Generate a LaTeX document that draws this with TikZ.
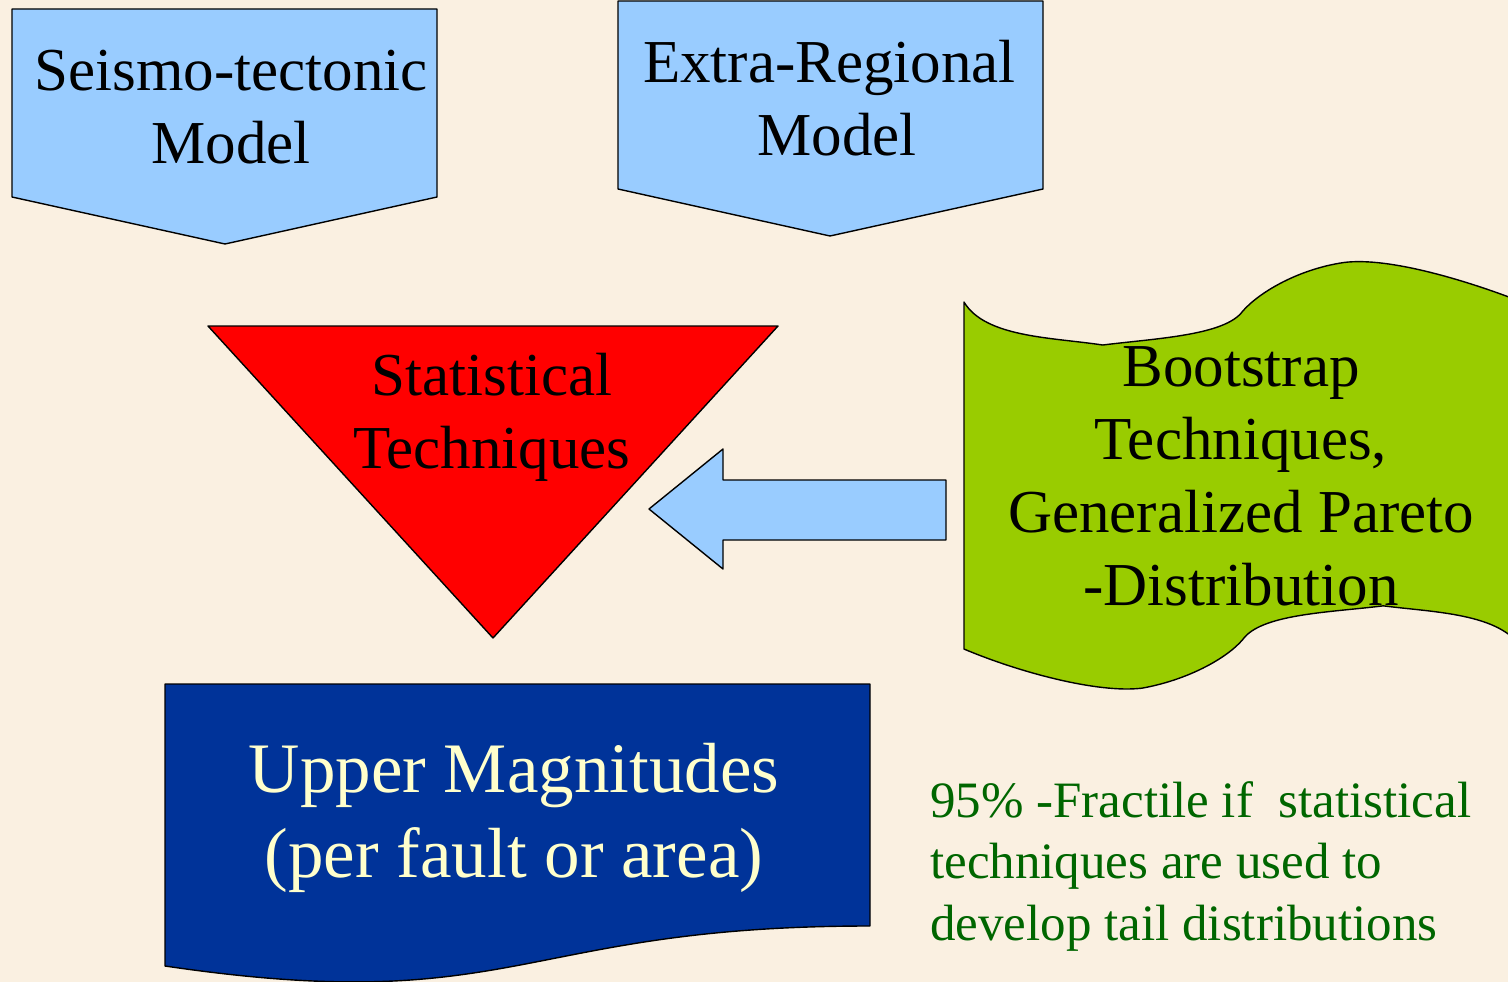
\documentclass[tikz,border=0pt]{standalone}
\usepackage{fontspec}
\setmainfont{Liberation Serif}
\definecolor{paper}{HTML}{FAF0E1}
\definecolor{skyblue}{HTML}{99CCFF}
\definecolor{leafgreen}{HTML}{99CC00}
\definecolor{deepblue}{HTML}{003399}
\definecolor{creamtext}{HTML}{FFFFCC}
\definecolor{notegreen}{HTML}{006600}
\tikzset{
  bigtext/.style={font=\fontsize{61}{73}\selectfont,align=center,inner sep=0pt,anchor=base},
  outline/.style={draw=black,line width=1.4pt,line join=round}
}
\begin{document}
\begin{tikzpicture}[x=1pt,y=-1pt]
	\fill[paper] (0,0) rectangle (1508,982);
	\useasboundingbox (0,0) rectangle (1508,982);
	% input models
	\coordinate (S1) at (12,9);
	\coordinate (S2) at (437,9);
	\coordinate (E1) at (618,1);
	\coordinate (E2) at (1043,1);
	\draw[outline,fill=skyblue] (S1) -- (S2) -- (437,197) -- (225,244) -- (12,197) -- cycle;
	\draw[outline,fill=skyblue] (E1) -- (E2) -- (1043,189) -- (830,236) -- (618,189) -- cycle;
	% base anchor = last line
	\node[bigtext] (seismo) at (231,163) {Seismo-tectonic\\Model};
	\node[bigtext] (extra) at (837,155) {Extra-Regional~~\\Model};
	% statistics
	\coordinate (T1) at (208,326);
	\coordinate (T2) at (778,326);
	\coordinate (T3) at (493,638);
	\draw[outline,fill=red] (T1) -- (T2) -- (T3) -- cycle;
	\node[bigtext] (stat) at (492,468) {Statistical\\Techniques};
	% block arrow
	\draw[outline,fill=skyblue] (946,480) -- (723,480) -- (723,449) -- (649,509)
		-- (723,569) -- (723,540) -- (946,540) -- cycle;
	% punched tape
	\begin{scope}[shift={(964pt,-257pt)},x=0.02583pt,y=-0.02019pt]
		\draw[outline,fill=leafgreen] (0,2230)
			.. controls (820,3990) and (3410,3980) .. (5370,4360)
			.. controls (7430,4030) and (10110,3890) .. (10790,2680)
			.. controls (11450,1720) and (12980,590) .. (14720,270)
			.. controls (16460,-10) and (19520,1190) .. (21600,2230)
			-- (21600,19420)
			.. controls (20790,17640) and (18170,17600) .. (16230,17280)
			.. controls (14140,17610) and (11490,17680) .. (10790,18950)
			.. controls (10150,19910) and (8610,20970) .. (6880,21360)
			.. controls (5140,21620) and (2070,20540) .. (0,19420) -- cycle;
	\end{scope}
	\node[bigtext] (boot) at (1241,605) {Bootstrap\\Techniques,\\Generalized Pareto\\-Distribution};
	% result
	\draw[outline,fill=deepblue] (165,684) -- (870,684) -- (870,926)
		.. controls (517.5,926) and (517.5,1018) .. (165,966) -- cycle;
	\node[bigtext,font=\fontsize{71}{85}\selectfont,text=creamtext] (upper) at (514,877)
		{Upper Magnitudes\\(per fault or area)};
	\node[font=\fontsize{51}{61.5}\selectfont,text=notegreen,align=left,inner sep=0pt,anchor=base west] (note)
		at (930,940) {95\% -Fractile if \ statistical\\techniques are used to\\develop tail distributions};
\end{tikzpicture}
\end{document}
